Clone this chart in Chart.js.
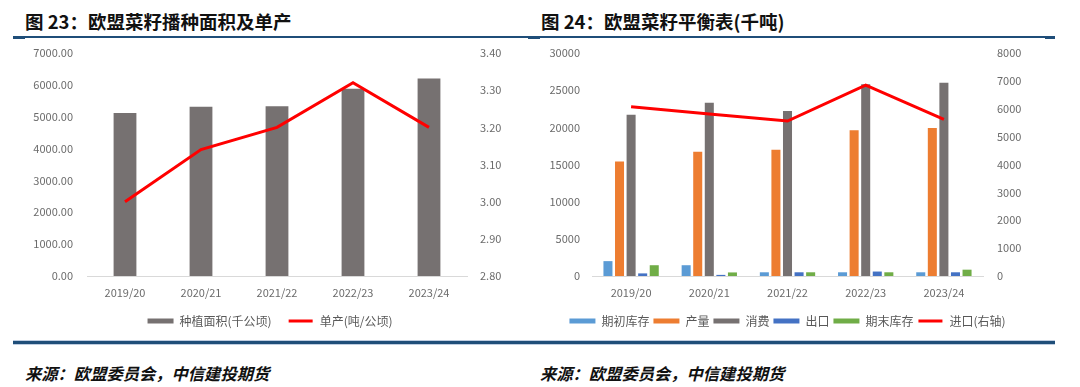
<!DOCTYPE html>
<html><head><meta charset="utf-8">
<script src="https://cdn.jsdelivr.net/npm/chart.js@4.4.1/dist/chart.umd.min.js"></script>
<style>
html,body{margin:0;padding:0;background:#fff;width:1080px;height:387px;overflow:hidden;position:relative;font-family:"Noto Sans CJK SC",sans-serif;}
.title{position:absolute;top:8px;font-weight:bold;font-size:18.5px;color:#111;line-height:26px;white-space:nowrap;}
.src{position:absolute;top:360px;font-weight:bold;font-style:italic;font-size:16.3px;color:#111;line-height:26px;white-space:nowrap;}
.ln{position:absolute;background:#1F4E79;}
.cw{position:absolute;top:40px;height:300px;}
</style></head>
<body>
<div class="title" style="left:25px">图 23：欧盟菜籽播种面积及单产</div>
<div class="title" style="left:541px">图 24：欧盟菜籽平衡表(千吨)</div>
<div class="ln" style="left:13px;top:36px;width:1042px;height:2px;"></div>
<div class="ln" style="left:13px;top:36px;width:12px;height:3px;"></div>
<div class="ln" style="left:528px;top:36px;width:12px;height:3px;"></div>
<div class="ln" style="left:1045px;top:36px;width:10px;height:3px;"></div>
<div class="ln" style="left:13px;top:340px;width:1042px;height:5px;background:#BFCDE0;"></div>
<div class="ln" style="left:13px;top:341px;width:1042px;height:3px;"></div>
<div class="src" style="left:25px">来源：欧盟委员会，中信建投期货</div>
<div class="src" style="left:540px">来源：欧盟委员会，中信建投期货</div>
<canvas id="c1" class="cw" style="left:0px" width="540" height="300"></canvas>
<canvas id="c2" class="cw" style="left:540px" width="495" height="300"></canvas>
<script>
const categories = ['2019/20','2020/21','2021/22','2022/23','2023/24'];
const plantedArea = [5120, 5310, 5330, 5880, 6200];
const yieldPerHa = [3.00, 3.14, 3.20, 3.32, 3.20];
const areaTicks = [0, 7000, 1000];
const yieldTicks = [2.8, 3.4, 0.1];

const beginStock = [2000, 1450, 500, 500, 500];
const production = [15400, 16700, 17000, 19600, 19900];
const consumption = [21700, 23300, 22200, 25800, 26000];
const exportsKt = [350, 150, 500, 600, 500];
const endStock = [1450, 480, 500, 500, 850];
const importsKt = [6070, 5810, 5560, 6850, 5620];
const balTicks = [0, 30000, 5000];
const impTicks = [0, 8000, 1000];

Chart.defaults.font.family = "'Noto Sans CJK SC','Noto Sans',sans-serif";
Chart.defaults.animation = false;
const tickColor = '#6b6b6b';
const fixW = w => s => { s.width = w; s.paddingTop = 0; s.paddingBottom = 0; };
const fixH = h => s => { s.height = h; };

function legendOpts(pad){
  return {
    position:'bottom',
    labels:{
      boxWidth:26, boxHeight:5, padding:pad, color:'#595959', font:{size:12},
      sort:(a,b)=>a.datasetIndex-b.datasetIndex,
      generateLabels:(chart)=>{
        const items = Chart.defaults.plugins.legend.labels.generateLabels(chart);
        items.forEach(it=>{
          const ds = chart.data.datasets[it.datasetIndex];
          if (ds.type === 'line') { it.fillStyle = ds.borderColor; it.strokeStyle = '#ffffff'; it.lineWidth = 2; }
          else { it.lineWidth = 0; }
        });
        return items;
      }
    }
  };
}
function yAxis(pos, t, pad, w, fmt){
  return {
    position:pos, min:t[0], max:t[1],
    ticks:{stepSize:t[2], color:tickColor, font:{size:11}, padding:pad, callback:fmt},
    grid:{display:false, drawTicks:false}, border:{display:false},
    afterFit: fixW(w)
  };
}
function xAxis(h){
  return {
    grid:{display:false, drawTicks:false}, border:{color:'#d9d9d9', width:1},
    ticks:{color:tickColor, font:{size:11}, padding:10, maxRotation:0},
    afterFit: fixH(h)
  };
}

new Chart(document.getElementById('c1'), {
  data:{ labels:categories, datasets:[
    {type:'bar', label:'种植面积(千公顷)', data:plantedArea, backgroundColor:'#767171', yAxisID:'y', order:1, barPercentage:0.3, categoryPercentage:1},
    {type:'line', label:'单产(吨/公顷)', data:yieldPerHa, borderColor:'#FF0000', backgroundColor:'#FF0000', borderWidth:3, pointRadius:0, tension:0, yAxisID:'y2', order:0}
  ]},
  options:{
    responsive:false, animation:false,
    layout:{padding:{top:13, bottom:3, left:0, right:0}},
    plugins:{ legend:legendOpts(16), tooltip:{enabled:false} },
    scales:{
      x:xAxis(23),
      y:yAxis('left', areaTicks, 14, 87, v=>Number(v).toFixed(2)),
      y2:yAxis('right', yieldTicks, 13, 73, v=>Number(v).toFixed(2))
    }
  }
});

const barCommon = {type:'bar', yAxisID:'y', order:1, barPercentage:0.78, categoryPercentage:0.74};
new Chart(document.getElementById('c2'), {
  data:{ labels:categories, datasets:[
    Object.assign({label:'期初库存', data:beginStock, backgroundColor:'#5B9BD5'}, barCommon),
    Object.assign({label:'产量', data:production, backgroundColor:'#ED7D31'}, barCommon),
    Object.assign({label:'消费', data:consumption, backgroundColor:'#767171'}, barCommon),
    Object.assign({label:'出口', data:exportsKt, backgroundColor:'#4472C4'}, barCommon),
    Object.assign({label:'期末库存', data:endStock, backgroundColor:'#70AD47'}, barCommon),
    {type:'line', label:'进口(右轴)', data:importsKt, borderColor:'#FF0000', backgroundColor:'#FF0000', borderWidth:3, pointRadius:0, tension:0, yAxisID:'y2', order:0}
  ]},
  options:{
    responsive:false, animation:false,
    layout:{padding:{top:13, bottom:3, left:0, right:0}},
    plugins:{ legend:legendOpts(4), tooltip:{enabled:false} },
    scales:{
      x:xAxis(35),
      y:yAxis('left', balTicks, 12, 52, v=>String(v)),
      y2:yAxis('right', impTicks, 14, 52, v=>String(v))
    }
  }
});
</script>
</body></html>
